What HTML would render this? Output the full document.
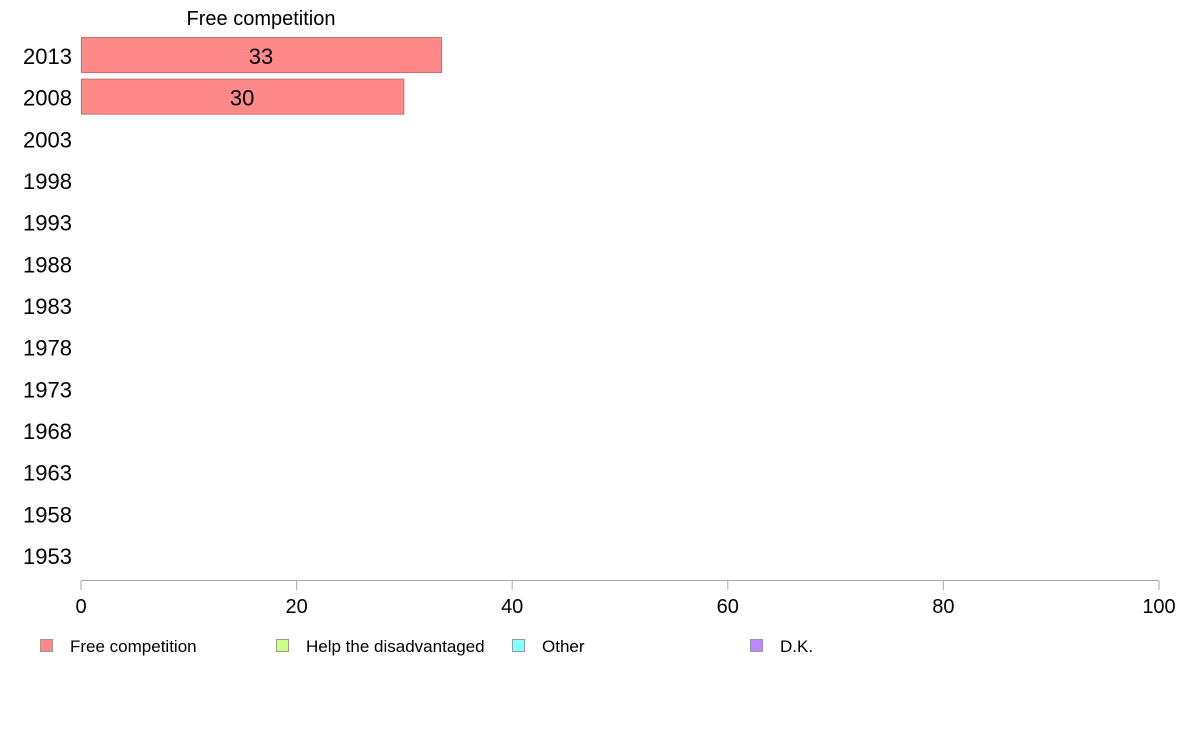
<!DOCTYPE html>
<html><head><meta charset="utf-8"><style>
body{margin:0;background:#fff;font-family:"Liberation Sans",sans-serif}
</style></head><body>
<svg id="c" width="1188" height="736" xmlns="http://www.w3.org/2000/svg" font-family="Liberation Sans, sans-serif">
<text x="261" y="25" font-size="20" text-anchor="middle">Free competition</text>
<line x1="81" y1="580.5" x2="1159" y2="580.5" stroke="#aaa" stroke-width="1"/>
<g id="g"></g>
</svg>
<script>
const years=["2013","2008","2003","1998","1993","1988","1983","1978","1973","1968","1963","1958","1953"];
const freeCompetition=[33.4,29.9,null,null,null,null,null,null,null,null,null,null,null];
const xTicks=[0,20,40,60,80,100];
const legendLabels=["Free competition","Help the disadvantaged","Other","D.K."];
const legendColors=["#ff8888","#ccff88","#88ffff","#bb88ff"];
const NS="http://www.w3.org/2000/svg";
const g=document.getElementById('g');
const x=v=>81+v*10.78;
const y=i=>56+i*41.67;
function mk(t,a,txt){const e=document.createElementNS(NS,t);for(const k in a)e.setAttribute(k,a[k]);if(txt!=null)e.textContent=txt;g.appendChild(e);return e;}
years.forEach((yr,i)=>{
 const t=mk('text',{x:72,y:y(i)+8,'font-size':22,'text-anchor':'end'},yr);
 
 
 const v=freeCompetition[i];
 if(v!=null){
  const r=mk('rect',{x:x(0)+0.5,y:y(i)-18.5,width:x(v)-x(0),height:35,fill:'#ff8888',stroke:'#c87070','stroke-width':1});
  
  
  const l=mk('text',{x:(x(0)+x(v))/2,y:y(i)+8,'font-size':22,'text-anchor':'middle'},Math.round(v));
  
  
 }
});
xTicks.forEach(v=>{
 const tk=mk('line',{x1:x(v),y1:581,x2:x(v),y2:590,stroke:'#aaa'});
 
 
 const t=mk('text',{x:x(v),y:613,'font-size':20,'text-anchor':'middle'},v);
 
 
});
const lx=[40,276,512,750];
legendLabels.forEach((lb,i)=>{
 const s=mk('rect',{x:lx[i]+0.5,y:639.5,width:12,height:12,fill:legendColors[i],stroke:'#999'});
 
 
 const t=mk('text',{x:lx[i]+30,y:652,'font-size':17},lb);
 
 
});
</script>
</body></html>
